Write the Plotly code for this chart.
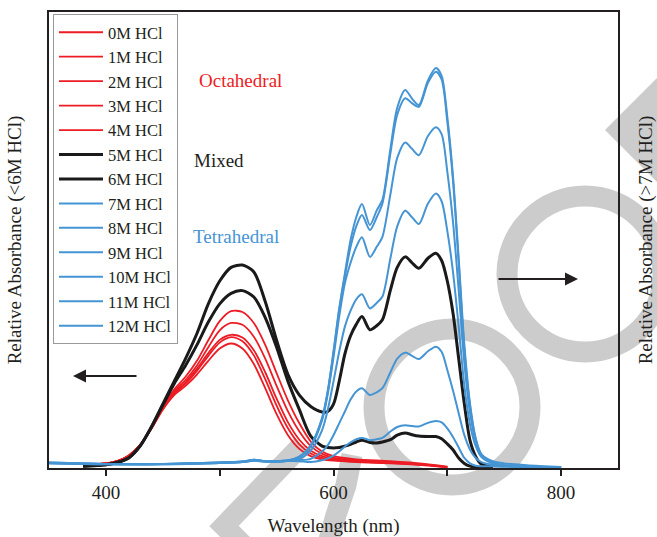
import plotly.graph_objects as go

# ---------------- data (relative absorbance) ----------------
wl_oct = [380, 400, 410, 420, 430, 440, 450, 460, 470, 480, 490, 500, 510, 520,
          530, 540, 550, 560, 570, 580, 590, 600, 620, 650, 680, 700]
red_0M = [.006, .01, .015, .027, .05, .086, .128, .16, .18, .205, .235, .262, .273, .262,
          .228, .175, .118, .072, .042, .026, .019, .016, .013, .01, .006, .002]
red_1M = [.006, .01, .015, .027, .05, .087, .13, .163, .185, .213, .246, .275, .287, .278,
          .247, .195, .137, .087, .052, .032, .022, .018, .014, .011, .007, .002]
red_2M = [.006, .01, .015, .027, .05, .087, .131, .165, .188, .218, .252, .281, .292, .286,
          .258, .21, .152, .1, .062, .038, .026, .02, .015, .012, .007, .002]
red_3M = [.006, .01, .015, .027, .05, .088, .133, .168, .193, .225, .265, .302, .318, .314,
          .288, .24, .18, .124, .08, .048, .031, .023, .017, .013, .008, .002]
red_4M = [.006, .01, .015, .027, .05, .088, .135, .172, .2, .235, .28, .322, .344, .342,
          .318, .27, .208, .148, .098, .058, .036, .026, .019, .015, .009, .003]

wl_mix = [380, 400, 410, 420, 430, 440, 450, 460, 470, 480, 490, 500, 510, 520,
          530, 540, 550, 560, 570, 580, 590, 595, 600, 605, 610, 615, 620, 625,
          632, 638, 643, 650, 656, 663, 669, 675, 683, 690, 695, 700, 705, 710,
          715, 720, 725, 730, 740]
black_5M = [.004, .007, .012, .022, .048, .09, .138, .185, .225, .27, .32, .36, .383, .389,
            .375, .33, .265, .19, .128, .07, .048, .045, .044, .045, .048, .052, .057, .061,
            .056, .055, .057, .062, .072, .077, .073, .07, .069, .069, .064, .053, .04, .022,
            .01, .004, .002, .001, .0]
black_6M = [.004, .007, .012, .022, .048, .09, .14, .19, .24, .295, .36, .41, .44, .445,
            .43, .365, .28, .205, .16, .135, .123, .124, .14, .19, .25, .29, .315, .332,
            .303, .312, .325, .39, .44, .463, .45, .438, .46, .471, .455, .41, .34, .24,
            .14, .06, .025, .008, .002]

wl_tet = [350, 400, 450, 500, 520, 530, 540, 560, 570, 580, 590, 595, 600, 605, 610,
          615, 620, 625, 632, 638, 643, 650, 656, 663, 669, 675, 683, 690, 695, 700,
          705, 710, 715, 720, 725, 730, 740, 750, 770, 800]
blue_7M = [.011, .009, .009, .011, .014, .017, .015, .016, .015, .013, .017, .021, .027, .036, .047,
           .056, .063, .066, .061, .063, .066, .08, .09, .094, .092, .091, .099, .103, .1, .087,
           .068, .045, .022, .01, .005, .004, .004, .003, .002, .002]
blue_8M = [.012, .009, .008, .012, .014, .018, .015, .016, .017, .02, .036, .05, .072, .098, .124,
           .15, .168, .175, .16, .166, .175, .21, .24, .253, .246, .239, .256, .266, .255, .215,
           .17, .12, .072, .04, .022, .013, .007, .005, .003, .002]
blue_9M = [.011, .008, .009, .011, .013, .017, .015, .016, .02, .038, .083, .128, .19, .255, .31,
           .345, .37, .381, .35, .362, .376, .46, .53, .564, .55, .535, .58, .602, .585, .52,
           .43, .31, .18, .095, .048, .024, .01, .005, .003, .002]
blue_10M = [.01, .009, .009, .012, .013, .016, .014, .016, .024, .047, .105, .163, .243, .332, .405,
            .45, .485, .506, .463, .485, .507, .6, .68, .714, .7, .686, .728, .747, .732, .65,
            .54, .39, .23, .12, .058, .028, .011, .005, .003, .002]
blue_11M = [.012, .009, .009, .012, .014, .018, .015, .017, .025, .05, .108, .168, .252, .345, .42,
            .485, .53, .555, .522, .55, .58, .69, .775, .811, .8, .792, .845, .869, .852, .76,
            .63, .45, .26, .135, .062, .03, .012, .006, .003, .002]
blue_12M = [.011, .008, .008, .011, .013, .017, .014, .016, .025, .05, .11, .17, .256, .35, .427,
            .5, .55, .579, .533, .565, .588, .70, .79, .829, .81, .796, .85, .877, .86, .77,
            .64, .46, .27, .14, .065, .03, .015, .01, .006, .002]

series = [
    ("0M HCl", wl_oct, red_0M, "red"), ("1M HCl", wl_oct, red_1M, "red"),
    ("2M HCl", wl_oct, red_2M, "red"), ("3M HCl", wl_oct, red_3M, "red"),
    ("4M HCl", wl_oct, red_4M, "red"), ("5M HCl", wl_mix, black_5M, "black"),
    ("6M HCl", wl_mix, black_6M, "black"), ("7M HCl", wl_tet, blue_7M, "blue"),
    ("8M HCl", wl_tet, blue_8M, "blue"), ("9M HCl", wl_tet, blue_9M, "blue"),
    ("10M HCl", wl_tet, blue_10M, "blue"), ("11M HCl", wl_tet, blue_11M, "blue"),
    ("12M HCl", wl_tet, blue_12M, "blue"),
]

# ---------------- styles ----------------
FONT = "Liberation Serif"
TXT = "#231F20"
COL = {"red": "#ED1C24", "black": "#1A1A1A", "blue": "#4594D3"}
WID = {"red": 1.8, "black": 3.0, "blue": 2.0}
GRAY = "#CCCCCC"

L, R, T, B = 49, 39, 12, 69
W, H = 657, 537
PW, PH = W - L - R, H - T - B


def px(x, y):
    return (x - L) / PW, (H - B - y) / PH


fig = go.Figure()
for name, xs, ys, grp in series:
    fig.add_trace(go.Scatter(
        x=xs, y=ys, name=name, mode="lines",
        yaxis="y2" if grp == "blue" else "y",
        line=dict(color=COL[grp], width=WID[grp], shape="spline", smoothing=0.8),
    ))

# ---------------- watermark-like gray shapes ----------------
shapes = []
for cx, cy, r in [(452, 407, 78), (585, 274, 78)]:
    x0, y1 = px(cx - r, cy - r)
    x1, y0 = px(cx + r, cy + r)
    shapes.append(dict(type="circle", xref="paper", yref="paper", x0=x0, x1=x1, y0=y0, y1=y1,
                       line=dict(color=GRAY, width=21), layer="below"))


def path(points, close=False):
    s = ""
    for i, (x, y) in enumerate(points):
        a, b = px(x, y)
        s += ("M" if i == 0 else "L") + f"{a:.4f},{b:.4f} "
    return s + ("Z" if close else "")


shapes.append(dict(type="path", xref="paper", yref="paper",
                   path=path([(302, 445), (224, 526), (254, 556)]),
                   line=dict(color=GRAY, width=21), layer="below"))
shapes.append(dict(type="path", xref="paper", yref="paper",
                   path=path([(326, 550), (336, 515), (346, 485), (352, 455)]),
                   line=dict(color=GRAY, width=21), layer="below"))
shapes.append(dict(type="path", xref="paper", yref="paper",
                   path=path([(605, 130), (660, 75), (660, 185)], close=True),
                   fillcolor=GRAY, line=dict(color=GRAY, width=0), layer="below"))

# ---------------- annotations ----------------
ann = []
for text, (x, y), col in [("Octahedral", (240, 81), COL["red"]),
                          ("Mixed", (219, 160), TXT),
                          ("Tetrahedral", (236, 236), COL["blue"])]:
    a, b = px(x, y)
    ann.append(dict(text=text, x=a, y=b, xref="paper", yref="paper", showarrow=False,
                    xanchor="center", yanchor="middle",
                    font=dict(family=FONT, size=19, color=col)))
for (hx, hy), (tx, ty) in [((73, 376), (138, 376)), ((578, 279), (497, 279))]:
    a, b = px(hx, hy)
    ann.append(dict(text="", x=a, y=b, xref="paper", yref="paper", showarrow=True,
                    ax=tx - hx, ay=ty - hy, arrowhead=2, arrowsize=1.3, arrowwidth=2,
                    arrowcolor=TXT))

fig.update_layout(
    width=W, height=H,
    margin=dict(l=L, r=R, t=T, b=B, autoexpand=False),
    paper_bgcolor="white", plot_bgcolor="rgba(0,0,0,0)",
    font=dict(family=FONT, size=19, color=TXT),
    shapes=shapes, annotations=ann,
    legend=dict(x=0.007, y=0.9956, xanchor="left", yanchor="top", bgcolor="white",
                bordercolor="#9A9A9A", borderwidth=1, font=dict(size=16.5, color=TXT),
                itemwidth=44, tracegroupgap=0),
    xaxis=dict(range=[350, 850], tickvals=[400, 500, 600, 700, 800],
               ticktext=["400", "", "600", "", "800"], ticks="outside", ticklen=6,
               tickwidth=2, tickcolor=TXT, showline=True, linecolor=TXT, linewidth=2,
               mirror=True, showgrid=False, zeroline=False, tickfont=dict(size=19),
               title=dict(text="Wavelength (nm)", standoff=19, font=dict(size=19))),
    yaxis=dict(range=[0, 1], showticklabels=False, ticks="", showline=True, linecolor=TXT,
               linewidth=2, mirror=True, showgrid=False, zeroline=False,
               title=dict(text="Relative Absorbance (&lt;6M HCl)", standoff=20,
                          font=dict(size=19))),
    yaxis2=dict(range=[0, 1], overlaying="y", side="right", showticklabels=False, ticks="",
                showline=False, showgrid=False, zeroline=False,
                title=dict(text="Relative Absorbance (&gt;7M HCl)", standoff=20,
                           font=dict(size=19))),
)

fig.write_html("out.html")
